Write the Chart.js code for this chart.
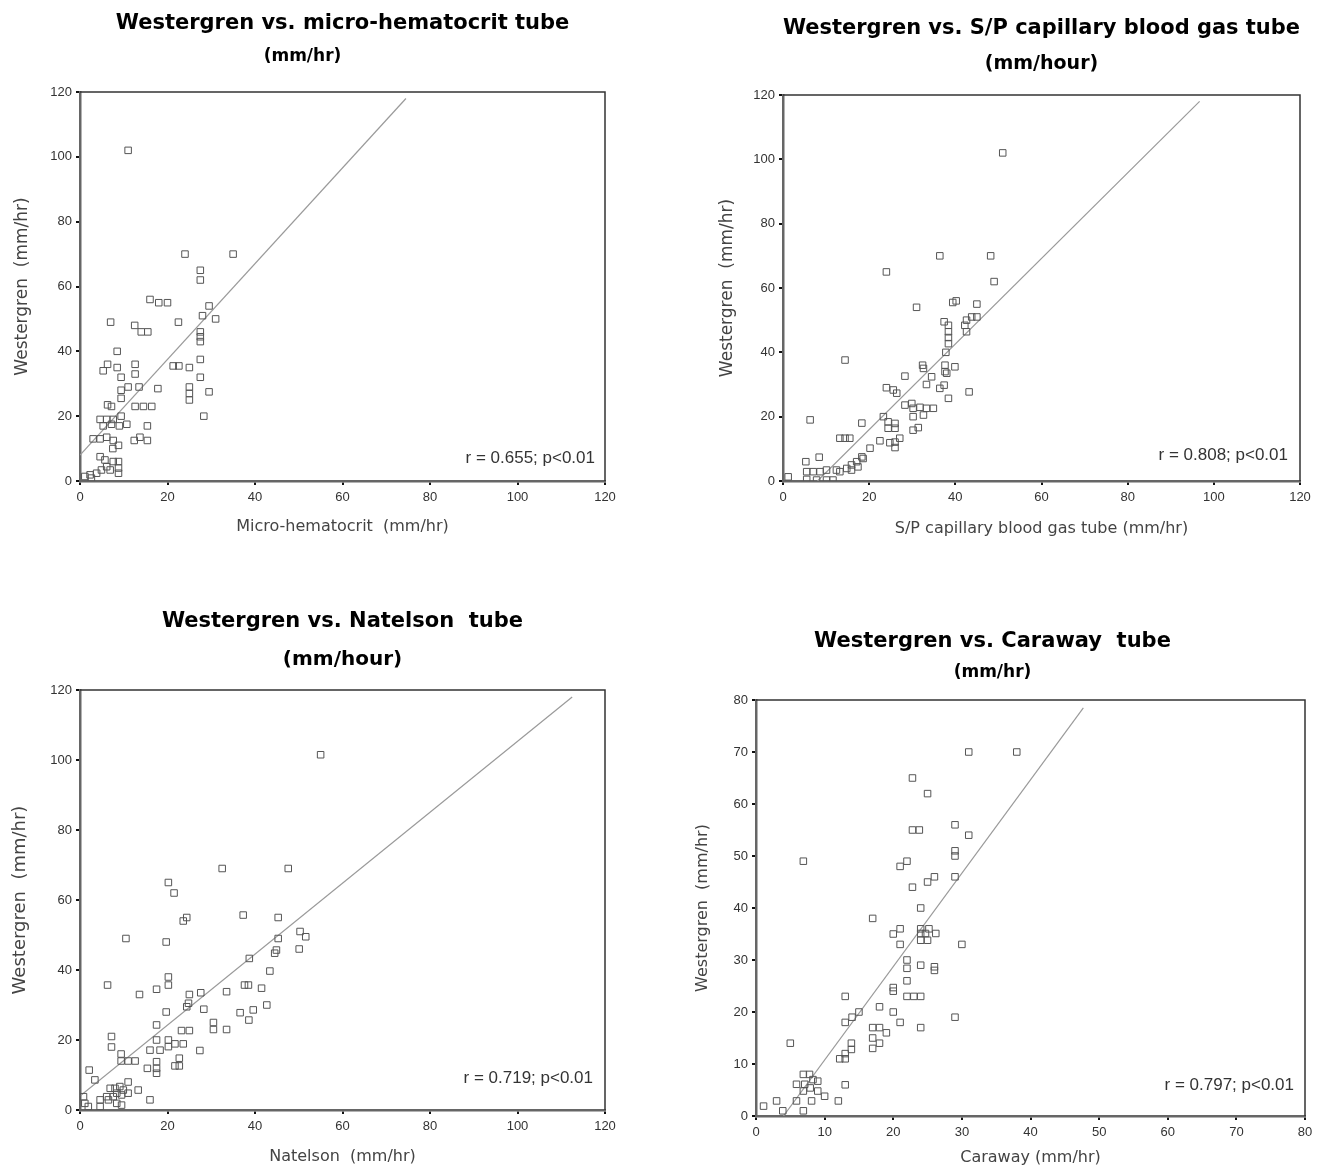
<!DOCTYPE html>
<html>
<head>
<meta charset="utf-8">
<script src="https://cdn.jsdelivr.net/npm/chart.js@4.4.1/dist/chart.umd.min.js"></script>
<style>
  body { margin: 0; background: #fff; width: 1324px; height: 1169px; position: relative; overflow: hidden; }
  .panel { position: absolute; }
</style>
</head>
<body>
<div class="panel" style="left:0;top:0;width:660px;height:560px"><canvas id="c1"></canvas></div>
<div class="panel" style="left:700px;top:0;width:624px;height:560px"><canvas id="c2"></canvas></div>
<div class="panel" style="left:0;top:580px;width:660px;height:589px"><canvas id="c3"></canvas></div>
<div class="panel" style="left:680px;top:580px;width:644px;height:589px"><canvas id="c4"></canvas></div>
<script>
// Westergren vs. micro-hematocrit
const microX = [11, 24, 35, 27.5, 27.5, 16, 18, 20, 29.5, 28, 31, 7, 22.5, 12.5, 14, 15.5, 27.5, 27.5, 27.5, 8.5,
  27.5, 6.3, 5.3, 8.5, 9.4, 12.6, 12.6, 21.3, 22.6, 25, 27.5, 11, 13.5, 9.4, 17.8, 25, 25, 25, 29.5, 9.4,
  6.3, 7.2, 12.6, 14.5, 16.4, 4.6, 6.1, 7.6, 9.4, 5.3, 7.2, 9, 10.7, 15.4, 3, 4.6, 6.1, 7.6, 8.8, 7.5,
  12.4, 13.7, 15.4, 4.6, 5.7, 7.6, 8.8, 8.8, 8.8, 6.1, 4.9, 3.8, 2.3, 1.1, 2.6, 6.9, 28.3];
const microY = [102, 70, 70, 65, 62, 56, 55, 55, 54, 51, 50, 49, 49, 48, 46, 46, 46, 44.5, 43, 40,
  37.5, 36, 34, 35, 32, 36, 33, 35.5, 35.5, 35, 32, 29, 29, 28, 28.5, 29, 27, 25, 27.5, 25.5,
  23.5, 23, 23, 23, 23, 19, 19, 19, 20, 17, 17.5, 17, 17.5, 17, 13, 13, 13.5, 12.5, 11, 10,
  12.5, 13.5, 12.5, 7.5, 6.5, 6, 6, 4, 2.4, 4.4, 3.4, 2.4, 1.9, 1.4, 0.9, 3.4, 20];
const microFitX = [0, 74.5];
const microFitY = [8, 118];

// Westergren vs. S/P capillary blood gas tube
const spX = [51, 36.4, 48.2, 24, 49, 31, 39.4, 40.2, 45, 42.6, 43.8, 45, 42.2, 42.6, 37.4, 38.4, 38.4, 38.4, 38.4, 37.8,
  14.4, 32.4, 32.6, 37.6, 39.9, 37.6, 38, 28.3, 34.5, 33.3, 36.4, 37.4, 43.2, 38.4, 24, 25.6, 26.4, 28.3, 29.9, 30.2,
  31.8, 33.3, 34.9, 32.6, 30.2, 23.3, 24.4, 26, 24.4, 26, 18.3, 30.2, 31.4, 6.3, 13.2, 14.4, 15.5, 22.5, 27.1, 26,
  26, 24.8, 20.2, 18.3, 17.1, 15.9, 14.8, 15.9, 17.4, 18.6, 8.4, 5.3, 5.5, 7, 8.6, 10.1, 12.4, 13.2, 1.2, 5.5,
  7.8, 10.1, 11.6];
const spY = [102, 70, 70, 65, 62, 54, 55.5, 56, 55, 50, 51, 51, 48.4, 46.4, 49.5, 48.4, 46.4, 44.6, 42.7, 40,
  37.6, 36, 35, 36, 35.5, 34, 33.5, 32.6, 32.4, 30, 28.8, 29.8, 27.7, 25.7, 29, 28.3, 27.3, 23.6, 24.1, 22.6,
  22.9, 22.6, 22.6, 20.5, 20, 20, 18.4, 17.9, 16.4, 16.4, 18, 15.8, 16.6, 19, 13.3, 13.3, 13.3, 12.5, 13.3, 12.1,
  10.4, 11.9, 10.2, 7.5, 6, 5, 3.9, 3.4, 4.4, 7, 7.4, 6, 2.9, 2.9, 2.9, 3.4, 3.4, 2.9, 1.3, 0.5,
  0.3, 0.3, 0.3];
const spFitX = [8, 96.7];
const spFitY = [0, 118];

// Westergren vs. Natelson tube
const natX = [55, 32.5, 47.6, 20.2, 21.5, 23.6, 24.4, 37.3, 45.3, 10.5, 19.7, 45.3, 50.3, 51.6, 50.1, 44.9, 44.5, 38.7, 43.4, 6.3,
  20.2, 20.2, 17.5, 13.6, 25, 27.6, 33.5, 37.6, 38.5, 41.5, 24.8, 24.4, 28.3, 42.7, 36.6, 39.6, 38.6, 19.7, 30.5, 30.5,
  33.5, 23.2, 25, 17.5, 7.2, 7.2, 17.5, 16, 18.3, 20.2, 20.2, 21.7, 23.6, 27.4, 9.4, 9.4, 11, 12.6, 17.5, 17.5,
  17.5, 15.4, 22.7, 21.7, 22.7, 2.1, 3.4, 11, 6.9, 8, 9.1, 9.9, 11, 13.3, 9.5, 8.4, 7.6, 6.1, 4.6, 6.5,
  8.4, 9.5, 1.1, 1.9, 16, 4.6, 0.8];
const natY = [101.5, 69, 69, 65, 62, 54, 55, 55.7, 55, 49, 48, 49, 51, 49.5, 46, 45.7, 44.8, 43.3, 39.7, 35.7,
  38, 35.7, 34.5, 33, 33, 33.5, 33.8, 35.7, 35.7, 34.8, 30.5, 29.5, 28.8, 30, 27.8, 28.6, 25.7, 28, 25, 23,
  23, 22.7, 22.7, 24.3, 21, 18, 20, 17.1, 17.1, 20, 18.1, 18.9, 18.9, 17, 16, 14, 14, 14, 13.8, 11.9,
  10.5, 11.9, 14.8, 12.6, 12.6, 11.4, 8.6, 8, 6.2, 6.2, 6.7, 5.7, 4.8, 5.7, 4.3, 4.8, 3.8, 3.8, 2.9, 2.9,
  1.9, 1.4, 1.9, 1, 2.9, 1, 3.8];
const natFitX = [0, 112.5];
const natFitY = [4, 118];

// Westergren vs. Caraway tube
const carX = [31, 38, 22.8, 25, 22.8, 23.8, 29, 31, 29, 29, 6.9, 22, 21, 26, 25, 29, 22.8, 24, 17, 21,
  20, 24, 25.2, 24, 24.7, 26.2, 24, 25, 21, 30, 22, 22, 24, 26, 26, 22, 20, 20, 22, 23,
  24, 13, 18, 20, 15, 14, 13, 21, 29, 24, 17, 18, 19, 17, 18, 17, 13.9, 13.9, 13, 12.2,
  13, 5, 13, 6.9, 7.8, 5.9, 7.1, 9, 6.9, 9, 10, 8.1, 5.9, 3, 1.1, 3.9, 6.9, 12, 7.9, 8.3];
const carY = [70, 70, 65, 62, 55, 55, 56, 54, 51, 50, 49, 49, 48, 46, 45, 46, 44, 40, 38, 36,
  35, 36, 36, 35.1, 35.1, 35.1, 33.8, 33.8, 33, 33, 30, 28.4, 29, 28.7, 28, 26, 24.7, 24, 23, 23,
  23, 23, 21, 20, 20, 19, 18, 18, 19, 17, 17, 17, 16, 15, 14, 13, 14, 12.8, 12, 11,
  11, 14, 6, 8, 8, 6.1, 6.1, 6.7, 4.8, 4.8, 3.8, 2.9, 2.9, 2.9, 1.9, 1, 1, 2.9, 5.4, 7];
const carFitX = [4, 47.7];
const carFitY = [0, 78.5];

const tickFont = { family: "'Liberation Sans', Arial, sans-serif", size: 13 };
const axisTitleFont = (size) => ({ family: "'DejaVu Sans', sans-serif", size: size });
const titleFont = (size) => ({ family: "'DejaVu Sans', sans-serif", size: size, weight: 'bold' });

const framePlugin = {
  id: 'frame',
  afterDatasetsDraw(chart) {
    const { ctx, chartArea: a } = chart;
    ctx.save();
    ctx.strokeStyle = '#333';
    ctx.lineWidth = 1.5;
    ctx.beginPath();
    ctx.moveTo(a.left, a.top);
    ctx.lineTo(a.right, a.top);
    ctx.lineTo(a.right, a.bottom);
    ctx.stroke();
    ctx.restore();
  }
};

const notePlugin = {
  id: 'note',
  afterDraw(chart, args, opts) {
    const { ctx, chartArea: a } = chart;
    ctx.save();
    ctx.font = "17px 'Liberation Sans', Arial, sans-serif";
    ctx.fillStyle = '#333';
    ctx.textAlign = 'right';
    ctx.textBaseline = 'middle';
    ctx.fillText(opts.text, a.right - opts.dx, a.bottom - opts.dy);
    ctx.restore();
  }
};

function axis(o) {
  return {
    type: 'linear',
    min: 0,
    max: o.max,
    border: { display: true, color: '#666', width: 2.5 },
    grid: { display: true, drawOnChartArea: false, drawTicks: true, tickLength: 4, color: '#111', lineWidth: 2 },
    ticks: { stepSize: o.step, autoSkip: false, maxRotation: 0, color: '#333', font: tickFont, padding: o.tickPad },
    title: { display: true, text: o.title, color: '#444', font: axisTitleFont(o.titleSize), padding: o.titlePad },
    afterFit: o.fit
  };
}

function makeChart(id, c) {
  new Chart(document.getElementById(id), {
    type: 'scatter',
    data: {
      datasets: [
        {
          data: c.xs.map((x, i) => ({ x: x, y: c.ys[i] })),
          pointStyle: 'rect',
          pointRadius: 4.6,
          borderColor: '#555',
          borderWidth: 1,
          backgroundColor: 'rgba(255,255,255,0)'
        },
        {
          data: c.fitX.map((x, i) => ({ x: x, y: c.fitY[i] })),
          showLine: true,
          pointRadius: 0,
          borderColor: '#9a9a9a',
          borderWidth: 1.2,
          fill: false
        }
      ]
    },
    options: {
      responsive: true,
      maintainAspectRatio: false,
      animation: false,
      layout: { padding: { left: 0, right: c.padRight, top: 0, bottom: 0 } },
      plugins: {
        legend: { display: false },
        tooltip: { enabled: false },
        title: { display: true, text: c.title, color: '#000', font: titleFont(c.titleSize), padding: c.titlePad, fullSize: c.titleFull },
        subtitle: { display: true, text: c.subtitle, color: '#000', font: titleFont(c.subSize), padding: c.subPad, fullSize: c.subFull },
        note: c.note
      },
      scales: {
        x: axis({ max: c.xMax, step: c.xStep, title: c.xTitle, titleSize: 16, titlePad: { top: 0, bottom: c.xTitlePad },
          tickPad: 5, fit: (s) => { s.height = c.xHeight; } }),
        y: axis({ max: c.yMax, step: c.yStep, title: c.yTitle, titleSize: c.yTitleSize, titlePad: { top: c.yTitlePad, bottom: 0 },
          tickPad: 4, fit: (s) => { s.width = c.yWidth; } })
      }
    },
    plugins: [framePlugin, notePlugin]
  });
}

makeChart('c1', {
  xs: microX, ys: microY, fitX: microFitX, fitY: microFitY,
  title: 'Westergren vs. micro-hematocrit tube', titleSize: 21, titlePad: { top: 11.4, bottom: 0 }, titleFull: false,
  subtitle: '(mm/hr)', subSize: 17, subPad: { top: 9.5, bottom: 25.5 }, subFull: true,
  xMax: 120, xStep: 20, yMax: 120, yStep: 20,
  xTitle: 'Micro-hematocrit  (mm/hr)', xTitlePad: 23.4, xHeight: 79,
  yTitle: 'Westergren  (mm/hr)', yTitleSize: 17, yTitlePad: 12, yWidth: 80,
  padRight: 55,
  note: { text: 'r = 0.655; p<0.01', dx: 10, dy: 23 }
});

makeChart('c2', {
  xs: spX, ys: spY, fitX: spFitX, fitY: spFitY,
  title: 'Westergren vs. S/P capillary blood gas tube', titleSize: 21, titlePad: { top: 16.4, bottom: 0 }, titleFull: false,
  subtitle: '(mm/hour)', subSize: 19, subPad: { top: 11, bottom: 19.6 }, subFull: false,
  xMax: 120, xStep: 20, yMax: 120, yStep: 20,
  xTitle: 'S/P capillary blood gas tube (mm/hr)', xTitlePad: 21.4, xHeight: 79,
  yTitle: 'Westergren  (mm/hr)', yTitleSize: 17, yTitlePad: 17, yWidth: 83,
  padRight: 24,
  note: { text: 'r = 0.808; p<0.01', dx: 12, dy: 26 }
});

makeChart('c3', {
  xs: natX, ys: natY, fitX: natFitX, fitY: natFitY,
  title: 'Westergren vs. Natelson  tube', titleSize: 21, titlePad: { top: 29.4, bottom: 0 }, titleFull: false,
  subtitle: '(mm/hour)', subSize: 20, subPad: { top: 13.4, bottom: 18 }, subFull: false,
  xMax: 120, xStep: 20, yMax: 120, yStep: 20,
  xTitle: 'Natelson  (mm/hr)', xTitlePad: 2.4, xHeight: 59,
  yTitle: 'Westergren  (mm/hr)', yTitleSize: 18, yTitlePad: 10, yWidth: 80,
  padRight: 55,
  note: { text: 'r = 0.719; p<0.01', dx: 12, dy: 32 }
});

makeChart('c4', {
  xs: carX, ys: carY, fitX: carFitX, fitY: carFitY,
  title: 'Westergren vs. Caraway  tube', titleSize: 21, titlePad: { top: 49.4, bottom: 0 }, titleFull: true,
  subtitle: '(mm/hr)', subSize: 17, subPad: { top: 8.2, bottom: 16.8 }, subFull: true,
  xMax: 80, xStep: 10, yMax: 80, yStep: 10,
  xTitle: 'Caraway (mm/hr)', xTitlePad: 1.4, xHeight: 53,
  yTitle: 'Westergren  (mm/hr)', yTitleSize: 16, yTitlePad: 13, yWidth: 76,
  padRight: 19,
  note: { text: 'r = 0.797; p<0.01', dx: 11, dy: 31 }
});
</script>
</body>
</html>
